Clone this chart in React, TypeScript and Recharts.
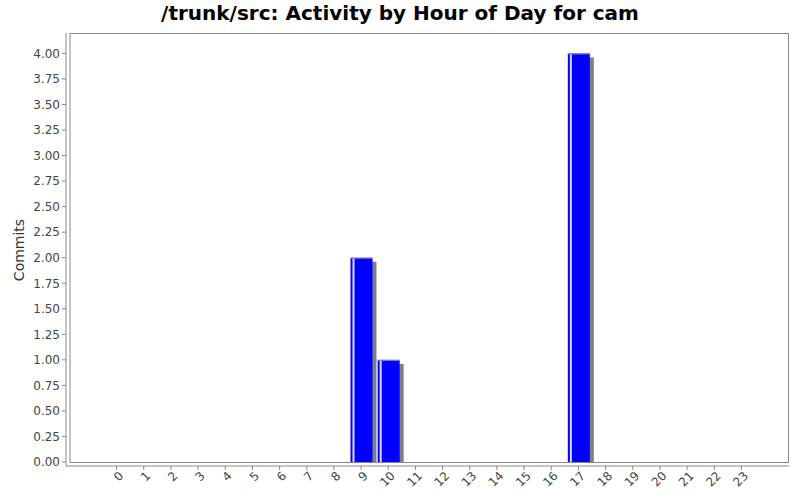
import { BarChart, Bar, XAxis, YAxis, usePlotArea } from 'recharts';

const hours = ['0', '1', '2', '3', '4', '5', '6', '7', '8', '9', '10', '11', '12', '13', '14', '15', '16', '17', '18', '19', '20', '21', '22', '23'];
const commits = [0, 0, 0, 0, 0, 0, 0, 0, 0, 2, 1, 0, 0, 0, 0, 0, 0, 4, 0, 0, 0, 0, 0, 0];
const yTicks = [0, 0.25, 0.5, 0.75, 1, 1.25, 1.5, 1.75, 2, 2.25, 2.5, 2.75, 3, 3.25, 3.5, 3.75, 4];

const data = hours.map((h, i) => ({ hour: h, commits: commits[i] }));

const FONT = '"DejaVu Sans", sans-serif';

// bar with a grey drop shadow and a light edge, like the old JFreeChart look
function ShadowBar(props: any) {
  const { x, y, width, height } = props;
  if (!height || height <= 0) return null;
  return (
    <g>
      <rect x={x + 4} y={y + 4} width={width} height={height - 4} fill="#808080" />
      <rect x={x} y={y} width={width} height={height} fill="#0000ff" />
      <rect x={x} y={y} width={width} height={1} fill="#8080ff" />
      <rect x={x + 2} y={y + 1} width={2} height={height - 1} fill="#ffffff" opacity={0.85} />
    </g>
  );
}

function HourTick({ x, y, payload }: any) {
  return (
    <g transform={`translate(${x + 5},${y + 2})`}>
      <text textAnchor="end" dominantBaseline="middle" transform="rotate(-45)" fill="#444" fontSize={12} fontFamily={FONT}>
        {payload.value}
      </text>
    </g>
  );
}

// plot outline sits a few px inside the axis lines
function PlotBorder() {
  const area = usePlotArea();
  if (!area) return null;
  return (
    <rect
      x={area.x + 4}
      y={area.y + 0.5}
      width={area.width - 4.5}
      height={area.height - 4}
      fill="none"
      stroke="#888"
    />
  );
}

export default function App() {
  return (
    <div style={{ position: 'absolute', left: 0, top: 0, width: 800, height: 500, background: '#fff', fontFamily: FONT }}>
      <div style={{ position: 'absolute', top: 1, left: 0, width: 800, textAlign: 'center', fontSize: 20, fontWeight: 'bold', color: '#000' }}>
        /trunk/src: Activity by Hour of Day for cam
      </div>
      <div
        style={{
          position: 'absolute', left: 19, top: 250, transform: 'translate(-50%,-50%) rotate(-90deg)',
          fontSize: 14, color: '#333', whiteSpace: 'nowrap',
        }}
      >
        Commits
      </div>
      <BarChart width={800} height={500} data={data} margin={{ top: 33, right: 11, bottom: 0, left: 0 }}>
        <PlotBorder />
        <XAxis
          dataKey="hour"
          interval={0}
          padding={{ left: 37, right: 34 }}
          stroke="#888"
          tickSize={4}
          tickMargin={2}
          tick={<HourTick />}
          height={34}
        />
        <YAxis
          domain={[0, 4.2]}
          ticks={yTicks}
          tickFormatter={(v: number) => v.toFixed(2)}
          padding={{ top: 0, bottom: 4 }}
          width={66}
          stroke="#888"
          tickSize={4}
          tickMargin={2}
          tick={{ fill: '#444', fontSize: 12, fontFamily: FONT }}
          allowDataOverflow
        />
        <Bar dataKey="commits" barSize={22} shape={<ShadowBar />} isAnimationActive={false} />
      </BarChart>
    </div>
  );
}
